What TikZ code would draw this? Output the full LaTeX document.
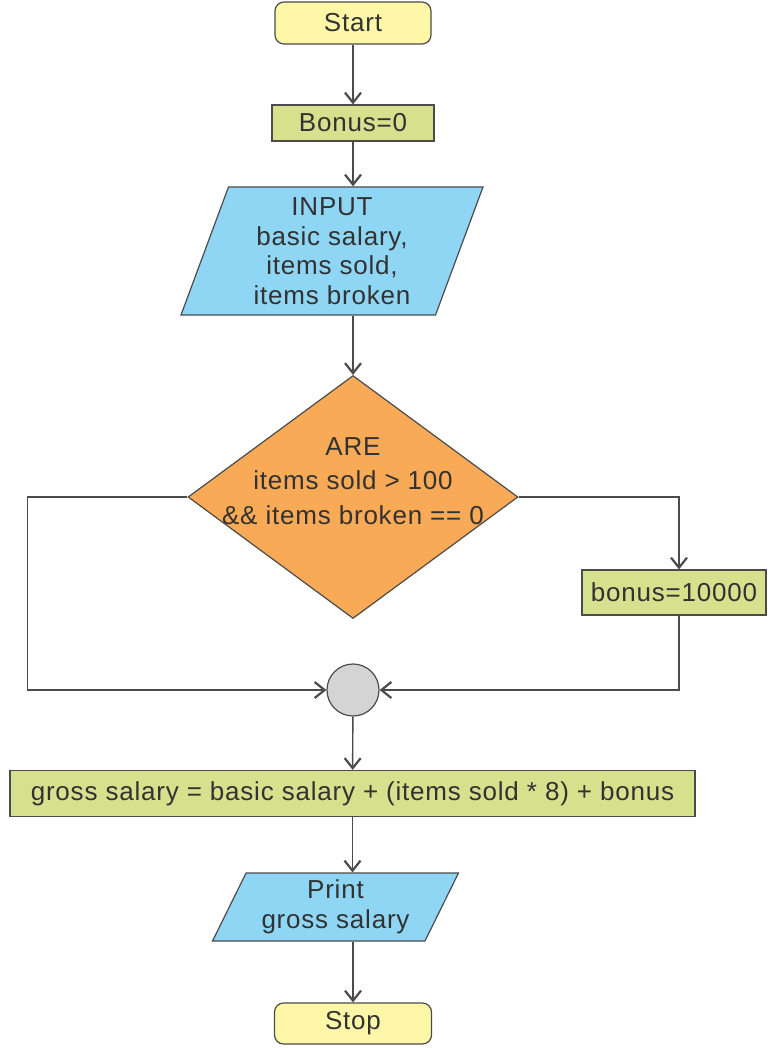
\documentclass[tikz,border=0pt]{standalone}
\usepackage{fontspec}
\setmainfont{Liberation Sans}[LetterSpace=3]
\usepackage{tikz}
\usetikzlibrary{shapes.geometric}
\usetikzlibrary{arrows.meta}
\usetikzlibrary{calc}
\usepackage{color}
\definecolor{termyellow}{RGB}{255, 247, 168}
\definecolor{procgreen}{RGB}{213, 225, 141}
\definecolor{ioblue}{RGB}{143, 214, 245}
\definecolor{decorange}{RGB}{248, 170, 86}
\definecolor{jointgray}{RGB}{212, 212, 212}
\definecolor{linegray}{RGB}{75, 75, 75}
\definecolor{textgray}{RGB}{50, 50, 50}
\newcommand{\flowfont}{\fontsize{13}{14.75}\selectfont}
\newcommand{\decfont}{\fontsize{13}{17.25}\selectfont}

\tikzset{
  box/.style={draw=linegray, line width=0.6pt, text=textgray, font=\flowfont, align=center, inner sep=0pt},
  terminal/.style={box, rectangle, rounded corners=4.5pt, fill=termyellow},
  process/.style={box, rectangle, fill=procgreen},
  inout/.style={box, trapezium, trapezium stretches body, fill=ioblue},
  decision/.style={box, diamond, fill=decorange, minimum width=165pt, minimum height=121.5pt},
  decisiontext/.style={text=textgray, font=\decfont, align=center, inner sep=0pt},
  joint/.style={box, circle, fill=jointgray, minimum size=26pt},
  flow/.style={draw=linegray, line width=0.7pt, -{Straight Barb[length=5pt, width=8pt, line width=1.1pt]}}
}

\begin{document}
\begin{tikzpicture}[x=0.5pt, y=-0.5pt]
  % Frame to fix the page size
  \useasboundingbox (0, 0) rectangle (767, 1048);

  % Main column
  \node[terminal, minimum width=78pt, minimum height=21pt]   (start)     at (353.0,   23.0) {Start};
  \node[process,  minimum width=81pt, minimum height=18pt]   (bonusZero) at (353.0,  123.0) {Bonus=0};
  \node[inout, trapezium left angle=66, trapezium right angle=114,
        minimum width=151pt, minimum height=64pt]            (input)     at (332.0,  251.0)
        {INPUT\\basic salary,\\items sold,\\items broken};
  \node[decision]                                            (check)     at (353.0,  497.0) {};
  \node[decisiontext]                                        (checkText) at (353.0,  481.0)
        {ARE\\items sold > 100\\\&\& items broken == 0};
  \node[process,  minimum width=92pt, minimum height=22.5pt] (bonusSet)  at (674.0,  592.5) {bonus=10000};
  \node[joint]                                               (merge)     at (353.0,  690.0) {};
  \node[process,  minimum width=342.5pt, minimum height=23pt] (gross)    at (352.5,  793.5)
        {gross salary = basic salary + (items sold * 8) + bonus};
  \node[inout, trapezium left angle=58, trapezium right angle=122,
        minimum width=123pt, minimum height=34pt]            (print)     at (335.5,  907.0)
        {Print\\gross salary};
  \node[terminal, minimum width=78.5pt, minimum height=20.5pt] (stop)    at (353.0, 1023.5) {Stop};

  % Straight connectors
  \draw[flow] (start) -- (bonusZero);
  \draw[flow] (bonusZero.south) -- (bonusZero.south |- input.north);
  \draw[flow] (input.south -| check.north) -- (check.north);
  \draw[flow] (merge) -- (gross);
  \draw[flow] (gross.south) -- (gross.south |- print.north);
  \draw[flow] (print.south -| stop.north) -- (stop.north);

  % No branch
  \draw[flow] (check.west) -- ++(-160, 0) |- (merge.west);
  % Yes branch
  \draw[flow] (check.east) -| ([xshift=2.5pt]bonusSet.north);
  \draw[flow] ([xshift=2.5pt]bonusSet.south) |- (merge.east);
\end{tikzpicture}
\end{document}
